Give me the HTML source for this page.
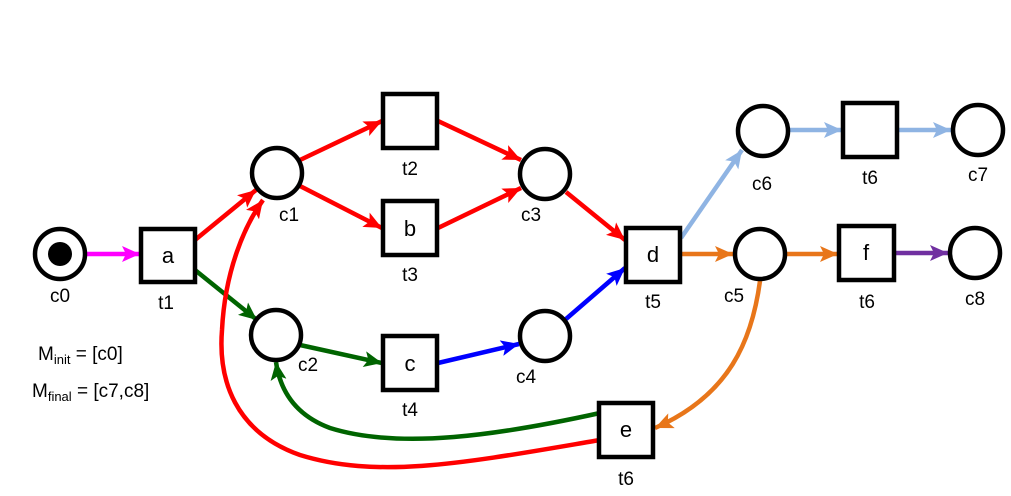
<!DOCTYPE html>
<html><head><meta charset="utf-8"><style>
html,body{margin:0;padding:0;background:#fff;}
svg{display:block;}
text{font-family:"Liberation Sans",sans-serif;fill:#000;}
</style></head><body>
<svg width="1011" height="496" viewBox="0 0 1011 496" xmlns="http://www.w3.org/2000/svg">
<defs>
<marker id="mr" markerUnits="userSpaceOnUse" markerWidth="20" markerHeight="18" refX="18" refY="8" orient="auto"><path d="M0,0 L18,8 L0,16 L4,8 Z" fill="#ff0000"/></marker>
<marker id="mg" markerUnits="userSpaceOnUse" markerWidth="20" markerHeight="18" refX="18" refY="8" orient="auto"><path d="M0,0 L18,8 L0,16 L4,8 Z" fill="#006400"/></marker>
<marker id="mb" markerUnits="userSpaceOnUse" markerWidth="20" markerHeight="18" refX="18" refY="8" orient="auto"><path d="M0,0 L18,8 L0,16 L4,8 Z" fill="#0000ff"/></marker>
<marker id="mo" markerUnits="userSpaceOnUse" markerWidth="20" markerHeight="18" refX="18" refY="8" orient="auto"><path d="M0,0 L18,8 L0,16 L4,8 Z" fill="#e8761a"/></marker>
<marker id="ml" markerUnits="userSpaceOnUse" markerWidth="20" markerHeight="18" refX="18" refY="8" orient="auto"><path d="M0,0 L18,8 L0,16 L4,8 Z" fill="#8fb4e3"/></marker>
<marker id="mp" markerUnits="userSpaceOnUse" markerWidth="20" markerHeight="18" refX="18" refY="8" orient="auto"><path d="M0,0 L18,8 L0,16 L4,8 Z" fill="#7030a0"/></marker>
<marker id="mm" markerUnits="userSpaceOnUse" markerWidth="20" markerHeight="18" refX="18" refY="8" orient="auto"><path d="M0,0 L18,8 L0,16 L4,8 Z" fill="#ff00ff"/></marker>
</defs>
<g fill="none" stroke-width="4.5">
<line x1="86" y1="254" x2="140" y2="254" stroke="#ff00ff" marker-end="url(#mm)"/>
<line x1="195" y1="240" x2="256" y2="190" stroke="#ff0000" marker-end="url(#mr)"/>
<line x1="300" y1="160" x2="382" y2="121" stroke="#ff0000" marker-end="url(#mr)"/>
<line x1="300" y1="186" x2="382" y2="228" stroke="#ff0000" marker-end="url(#mr)"/>
<line x1="438" y1="121" x2="521" y2="160" stroke="#ff0000" marker-end="url(#mr)"/>
<line x1="438" y1="228" x2="521" y2="188" stroke="#ff0000" marker-end="url(#mr)"/>
<line x1="566" y1="192" x2="625" y2="240" stroke="#ff0000" marker-end="url(#mr)"/>
<line x1="195" y1="270" x2="257" y2="320" stroke="#006400" marker-end="url(#mg)"/>
<line x1="300" y1="345" x2="382" y2="363" stroke="#006400" marker-end="url(#mg)"/>
<line x1="438" y1="363" x2="519" y2="344" stroke="#0000ff" marker-end="url(#mb)"/>
<line x1="566" y1="319" x2="625" y2="268" stroke="#0000ff" marker-end="url(#mb)"/>
<line x1="681" y1="238" x2="742" y2="150" stroke="#8fb4e3" marker-end="url(#ml)"/>
<line x1="790" y1="130" x2="842" y2="130" stroke="#8fb4e3" marker-end="url(#ml)"/>
<line x1="898" y1="130" x2="951" y2="130" stroke="#8fb4e3" marker-end="url(#ml)"/>
<line x1="681" y1="254" x2="733" y2="254" stroke="#e8761a" marker-end="url(#mo)"/>
<line x1="787" y1="254" x2="838" y2="254" stroke="#e8761a" marker-end="url(#mo)"/>
<line x1="895" y1="253" x2="948" y2="253" stroke="#7030a0" marker-end="url(#mp)"/>
<path d="M760,281 C752,340 730,395 655,428" stroke="#e8761a" marker-end="url(#mo)"/>
<path d="M600,440 C470,462 380,480 300,455 C235,432 218,380 222,330 C225,270 245,225 263,200" stroke="#ff0000" marker-end="url(#mr)"/>
<path d="M600,413 C500,435 400,450 330,428 C295,415 280,390 276,362" stroke="#006400" marker-end="url(#mg)"/>
</g>
<g fill="#fff" stroke="#000" stroke-width="4.5">
<circle cx="60" cy="254" r="25"/>
<circle cx="277" cy="173" r="25"/>
<circle cx="276" cy="335" r="25"/>
<circle cx="545" cy="174" r="25"/>
<circle cx="545" cy="336" r="25"/>
<circle cx="763" cy="131" r="25"/>
<circle cx="978" cy="130" r="25"/>
<circle cx="760" cy="254" r="25"/>
<circle cx="975" cy="253" r="25"/>
<rect x="141" y="229" width="54" height="53"/>
<rect x="383" y="94" width="54" height="54"/>
<rect x="383" y="201" width="54" height="54"/>
<rect x="383" y="336" width="54" height="54"/>
<rect x="626" y="228" width="54" height="54"/>
<rect x="843" y="103" width="54" height="54"/>
<rect x="839" y="226" width="55" height="54"/>
<rect x="599" y="403" width="54" height="54"/>
</g>
<circle cx="60" cy="254" r="12" fill="#000"/>
<g font-size="22" text-anchor="middle">
<text x="168" y="263">a</text>
<text x="410" y="236">b</text>
<text x="410" y="371">c</text>
<text x="653" y="262">d</text>
<text x="866" y="260">f</text>
<text x="626" y="437">e</text>
</g>
<g font-size="19" text-anchor="middle">
<text x="60" y="302">c0</text>
<text x="166" y="309">t1</text>
<text x="289" y="221">c1</text>
<text x="410" y="175">t2</text>
<text x="410" y="281">t3</text>
<text x="308" y="371">c2</text>
<text x="410" y="416">t4</text>
<text x="531" y="221">c3</text>
<text x="526" y="383">c4</text>
<text x="653" y="308">t5</text>
<text x="734" y="302">c5</text>
<text x="762" y="190">c6</text>
<text x="870" y="184">t6</text>
<text x="978" y="181">c7</text>
<text x="867" y="308">t6</text>
<text x="975" y="305">c8</text>
<text x="626" y="485">t6</text>
</g>
<text x="38" y="360" font-size="19">M<tspan font-size="13" dy="4">init</tspan><tspan dy="-4"> = [c0]</tspan></text>
<text x="32" y="397" font-size="19">M<tspan font-size="13" dy="4">final</tspan><tspan dy="-4"> = [c7,c8]</tspan></text>
</svg>
</body></html>
